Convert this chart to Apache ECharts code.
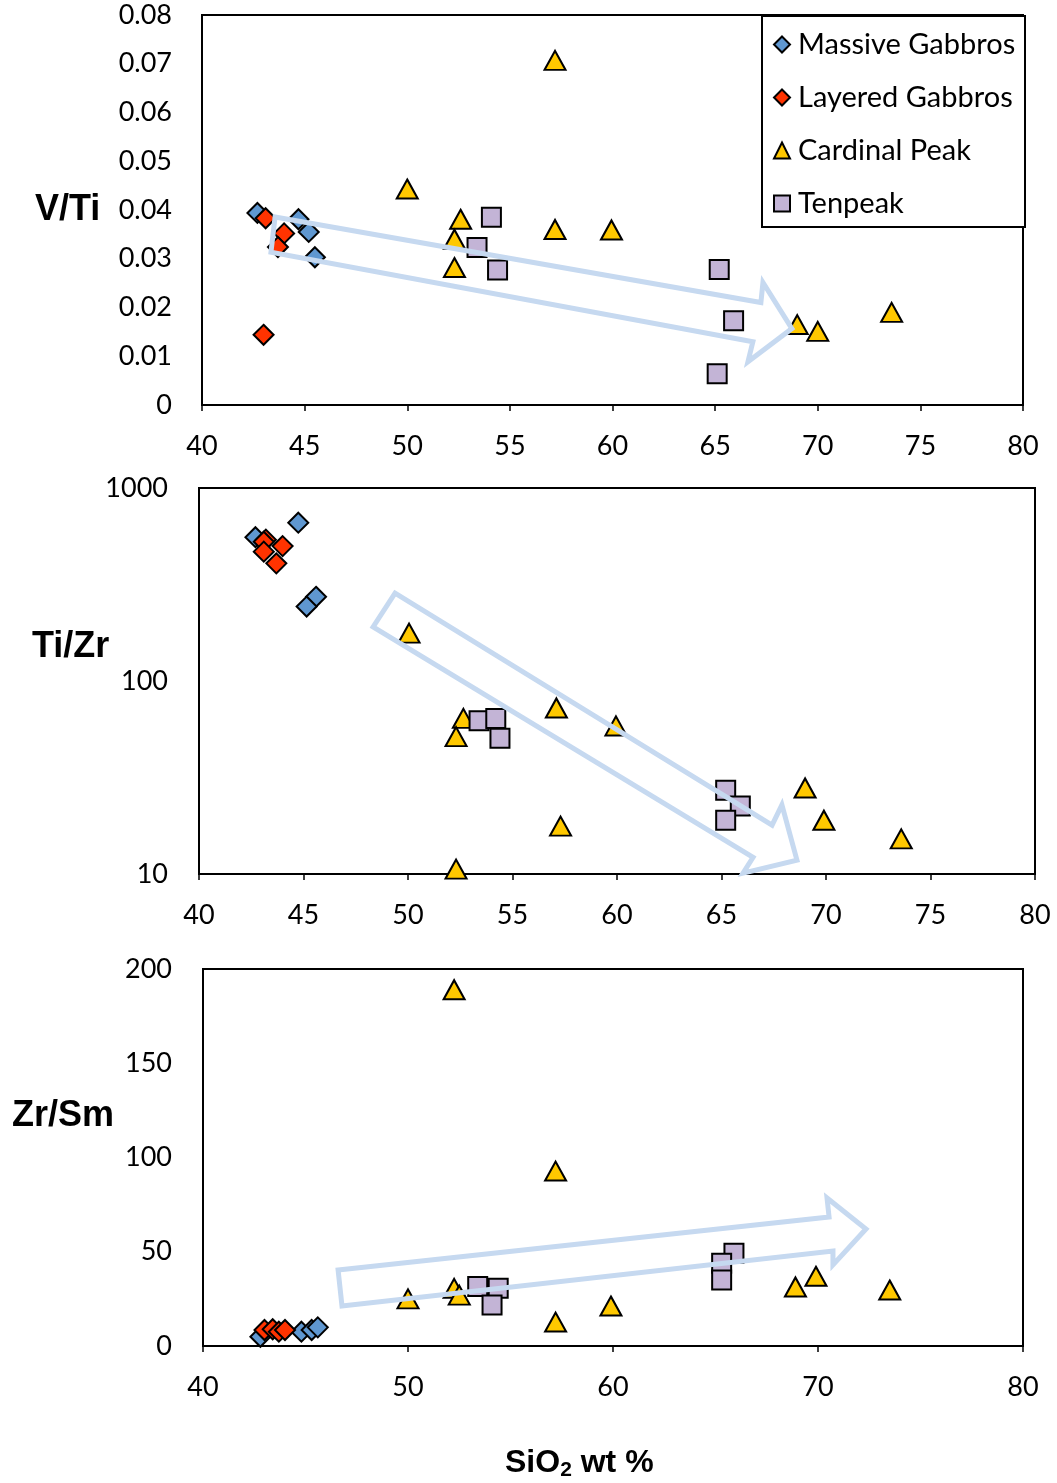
<!DOCTYPE html>
<html>
<head>
<meta charset="utf-8">
<script src="https://cdn.jsdelivr.net/npm/echarts@6/dist/echarts.min.js"></script>
<style>
  html, body { margin: 0; padding: 0; background: #fff; }
  #chart { width: 1057px; height: 1483px; }
</style>
</head>
<body>
<div id="chart"></div>
<script>
// Sample groups
const groupNames = ['Massive Gabbros', 'Layered Gabbros', 'Cardinal Peak', 'Tenpeak'];

// V/Ti vs SiO2
const massiveVTi = [[42.7, 0.0394], [44.7, 0.0381], [45.2, 0.0355], [45.5, 0.0303]];
const layeredVTi = [[43.1, 0.0383], [44.0, 0.0352], [43.7, 0.0324], [43.0, 0.0144]];
const cardinalVTi = [[57.2, 0.0707], [50.0, 0.0443], [52.6, 0.0381], [52.3, 0.0340], [52.3, 0.0282],
  [57.2, 0.0360], [59.95, 0.0359], [69.0, 0.0165], [70.0, 0.0151], [73.6, 0.0190]];
const tenpeakVTi = [[54.1, 0.0385], [53.4, 0.0323], [54.4, 0.0277], [65.2, 0.0278], [65.9, 0.0173], [65.1, 0.0064]];

// Ti/Zr vs SiO2 (log scale)
const massiveTiZr = [[42.7, 556], [44.75, 661], [45.6, 273], [45.15, 243]];
const layeredTiZr = [[43.2, 540], [43.1, 527], [43.1, 468], [44.0, 500], [43.7, 407]];
const cardinalTiZr = [[50.05, 177], [52.65, 64], [52.3, 51.5], [57.1, 72.5], [59.95, 58.5],
  [57.3, 17.7], [52.3, 10.6], [69.0, 27.9], [69.9, 19.0], [73.6, 15.2]];
const tenpeakTiZr = [[53.4, 62.3], [54.2, 64], [54.4, 50.5], [65.2, 27.2], [65.9, 22.5], [65.2, 19.0]];

// Zr/Sm vs SiO2
const massiveZrSm = [[42.8, 4.9], [44.8, 7.6], [45.3, 8.5], [45.6, 9.9]];
const layeredZrSm = [[43.0, 8.5], [43.4, 8.9], [43.7, 7.6], [44.0, 8.5]];
const cardinalZrSm = [[52.25, 189], [57.2, 92.8], [50.0, 25], [52.25, 30.6], [52.5, 27],
  [57.2, 12.7], [59.9, 21.2], [68.9, 31.3], [69.9, 37], [73.5, 29.7]];
const tenpeakZrSm = [[53.4, 31.5], [54.4, 30.6], [54.1, 21.7], [65.9, 49.2], [65.3, 43.9], [65.3, 35]];

// Trend arrows (outline vertices in data coordinates)
const arrowVTi = [[43.56, 0.03856], [67.23, 0.02103], [67.33, 0.02515], [68.74, 0.01567],
  [66.60, 0.00887], [66.84, 0.01299], [43.36, 0.03134]];
const arrowTiZr = [[49.38, 285.6], [67.42, 17.9], [67.89, 22.8], [68.61, 11.8],
  [66.03, 10.1], [66.51, 12.2], [48.33, 190.5]];
const arrowZrSm = [[46.59, 40.3], [70.54, 68.4], [70.44, 78.5], [72.34, 62.1],
  [70.73, 43.0], [70.73, 50.4], [46.78, 21.2]];

const styles = [
  { symbol: 'diamond', size: [20, 20], color: '#5f97d0' },
  { symbol: 'diamond', size: [20, 20], color: '#ff3300' },
  { symbol: 'triangle', size: [21, 19], color: '#ffc800' },
  { symbol: 'rect', size: [19, 19], color: '#c3b4d6' }
];

const labelFont = { fontFamily: 'Lato', fontSize: 27, color: '#000' };

function xAxisFor(gridIndex, interval) {
  return {
    type: 'value', gridIndex, min: 40, max: 80, interval,
    axisLine: { show: true, lineStyle: { color: '#000', width: 2 } },
    axisTick: { show: true, length: 6, lineStyle: { color: '#000', width: 1.5 } },
    axisLabel: Object.assign({ margin: 28 }, labelFont),
    splitLine: { show: false }
  };
}

function scatterSeries(gridIndex, sets) {
  return sets.map((data, i) => ({
    name: groupNames[i], type: 'scatter', xAxisIndex: gridIndex, yAxisIndex: gridIndex,
    data, symbol: styles[i].symbol, symbolSize: styles[i].size,
    itemStyle: { color: styles[i].color, borderColor: '#000', borderWidth: 2, opacity: 1 },
    emphasis: { disabled: true }, z: 2 + i * 0.1
  }));
}

function arrowSeries(gridIndex, pts, yAnchor) {
  return {
    type: 'custom', xAxisIndex: gridIndex, yAxisIndex: gridIndex,
    data: [[60, yAnchor]], z: 5, silent: true, clip: false,
    renderItem: (params, api) => ({
      type: 'polygon',
      shape: { points: pts.map(p => api.coord(p)) },
      style: { fill: 'none', stroke: '#c6d9f0', lineWidth: 5, lineJoin: 'miter' }
    })
  };
}

const chart = echarts.init(document.getElementById('chart'), null, { renderer: 'canvas' });

chart.setOption({
  backgroundColor: '#fff',
  animation: false,
  grid: [
    { left: 202, top: 15, width: 821, height: 390, show: true, borderColor: '#000', borderWidth: 2, containLabel: false },
    { left: 199, top: 488, width: 836, height: 386, show: true, borderColor: '#000', borderWidth: 2, containLabel: false },
    { left: 203, top: 969, width: 820, height: 377, show: true, borderColor: '#000', borderWidth: 2, containLabel: false }
  ],
  xAxis: [xAxisFor(0, 5), xAxisFor(1, 5), xAxisFor(2, 10)],
  yAxis: [
    {
      type: 'value', gridIndex: 0, min: 0, max: 0.08, interval: 0.01,
      axisLine: { show: true, lineStyle: { color: '#000', width: 2 } },
      axisTick: { show: false },
      axisLabel: Object.assign({ margin: 30, formatter: v => (v === 0 ? '0' : v.toFixed(2)) }, labelFont),
      splitLine: { show: false }
    },
    {
      type: 'log', gridIndex: 1, min: 10, max: 1000, logBase: 10,
      axisLine: { show: true, lineStyle: { color: '#000', width: 2 } },
      axisTick: { show: false },
      minorTick: { show: false },
      axisLabel: Object.assign({ margin: 31, formatter: v => String(Math.round(v)) }, labelFont),
      splitLine: { show: false }
    },
    {
      type: 'value', gridIndex: 2, min: 0, max: 200, interval: 50,
      axisLine: { show: true, lineStyle: { color: '#000', width: 2 } },
      axisTick: { show: false },
      axisLabel: Object.assign({ margin: 31 }, labelFont),
      splitLine: { show: false }
    }
  ],
  legend: {
    data: groupNames, orient: 'vertical', left: 773, top: 30,
    itemWidth: 16, itemHeight: 16, itemGap: 24, padding: 0,
    selectedMode: false,
    textStyle: { fontFamily: 'Lato', fontSize: 29, color: '#000', lineHeight: 27, padding: [0, 0, 0, 3] },
    z: 10
  },
  graphic: [
    { type: 'rect', left: 761, top: 15, z: 8, shape: { width: 263, height: 211 },
      style: { fill: '#fff', stroke: '#000', lineWidth: 2 } },
    { type: 'text', left: 35, top: 192, z: 10,
      style: { text: 'V/Ti', font: 'bold 36px "Liberation Sans", Arial, sans-serif', fill: '#000' } },
    { type: 'text', left: 32, top: 629, z: 10,
      style: { text: 'Ti/Zr', font: 'bold 36px "Liberation Sans", Arial, sans-serif', fill: '#000' } },
    { type: 'text', left: 12, top: 1098, z: 10,
      style: { text: 'Zr/Sm', font: 'bold 36px "Liberation Sans", Arial, sans-serif', fill: '#000' } },
    { type: 'text', left: 505, top: 1446, z: 10,
      style: {
        text: '{a|SiO}{s|2}{a| wt %}',
        rich: {
          a: { font: 'bold 32px "Liberation Sans", Arial, sans-serif', fill: '#000', lineHeight: 36 },
          s: { font: 'bold 21px "Liberation Sans", Arial, sans-serif', fill: '#000', lineHeight: 36, padding: [14, 0, 0, 0] }
        }
      } }
  ],
  series: [
    ...scatterSeries(0, [massiveVTi, layeredVTi, cardinalVTi, tenpeakVTi]),
    ...scatterSeries(1, [massiveTiZr, layeredTiZr, cardinalTiZr, tenpeakTiZr]),
    ...scatterSeries(2, [massiveZrSm, layeredZrSm, cardinalZrSm, tenpeakZrSm]),
    arrowSeries(0, arrowVTi, 0.03),
    arrowSeries(1, arrowTiZr, 100),
    arrowSeries(2, arrowZrSm, 50)
  ]
});
</script>
</body>
</html>
